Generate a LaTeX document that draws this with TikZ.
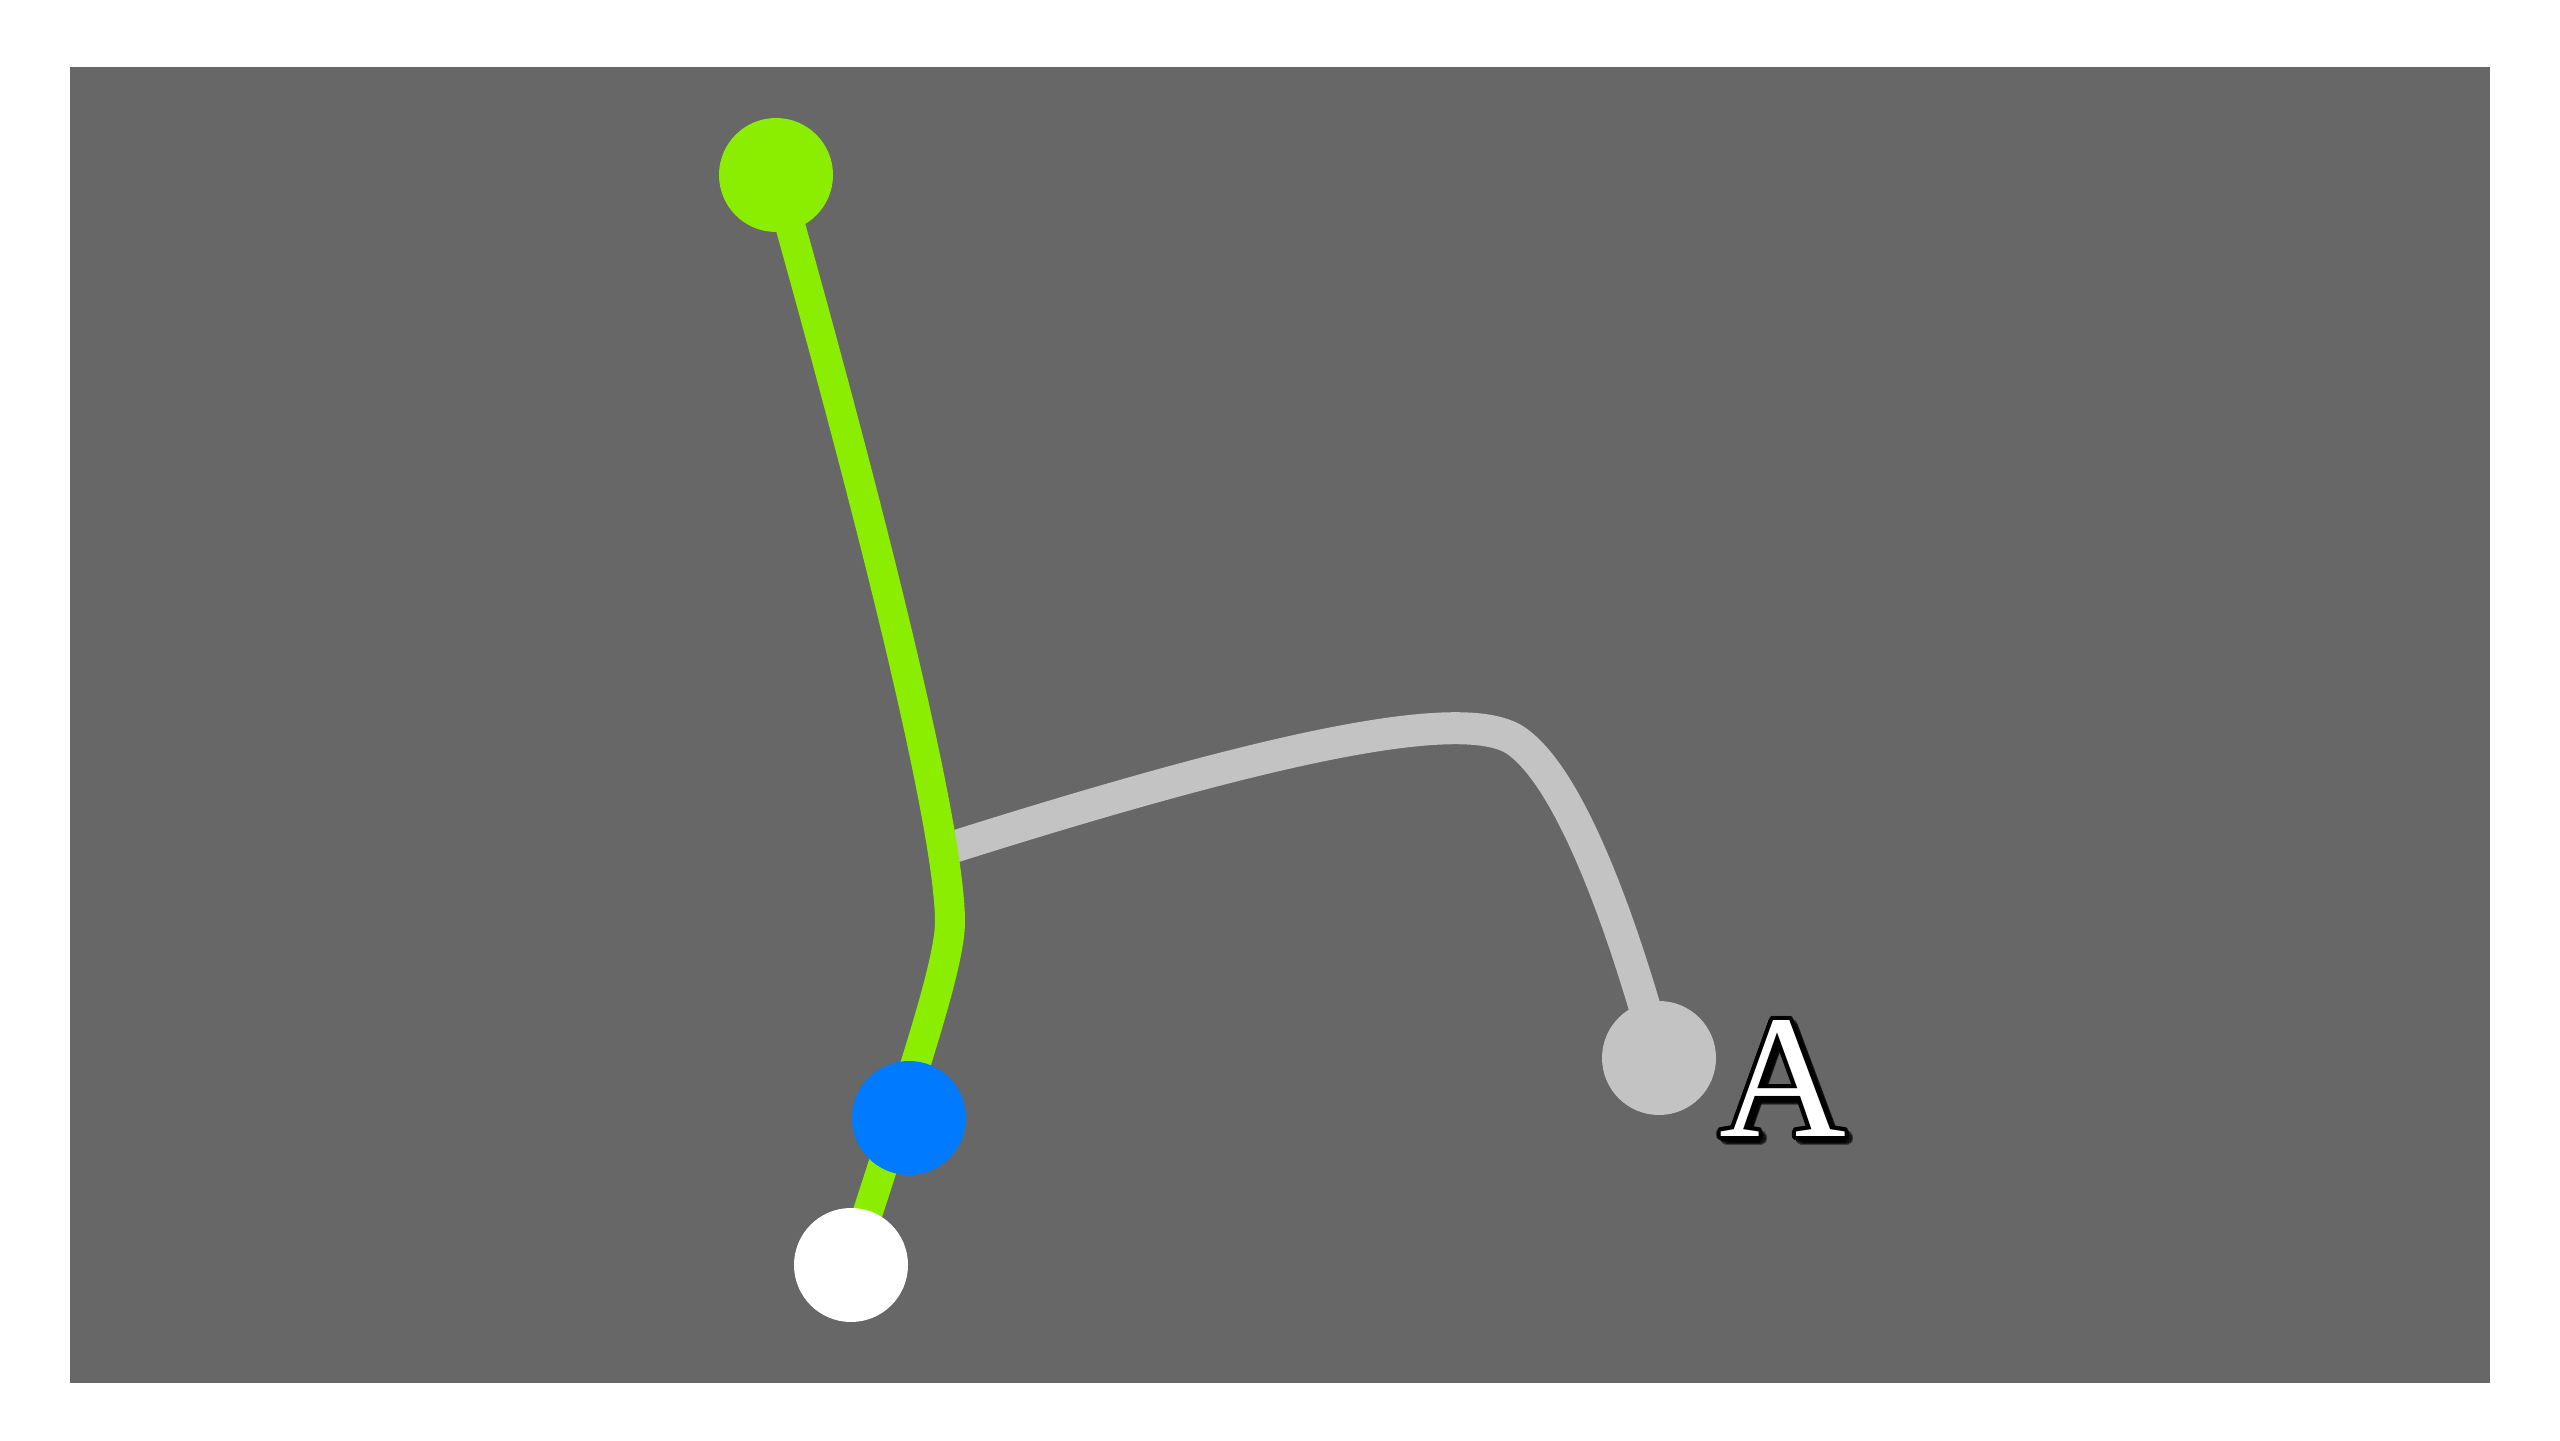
\documentclass[tikz,border=0pt]{standalone}
\usepackage{tikz}
\usepackage{fontspec}
\usepackage[copies]{contour}
\newfontfamily\labelfont{Liberation Serif}
\definecolor{stagegray}{RGB}{103,103,103}
\definecolor{limegreen}{RGB}{139,238,0}
\definecolor{dotblue}{RGB}{0,122,255}
\definecolor{railgray}{RGB}{195,195,195}
\contourlength{1.2pt}

\begin{document}
\begin{tikzpicture}
        \useasboundingbox (0,0) rectangle (25.6,14.4);
        \fill[white] (0,0) rectangle (25.6,14.4);
        \fill[stagegray] (0.70,0.57) rectangle (24.90,13.73);
        % joints
        \coordinate (bend) at (9.50,5.18);
        \coordinate (join) at (9.50,5.92);
        % gray rail
        \draw[railgray, line width=0.32cm] (join) .. controls (12.6,6.9) and (14.6,7.35) .. (15.15,7.0)
            .. controls (15.75,6.6) and (16.3,4.9) .. (16.59,3.82);
        % green rail
        \draw[limegreen, line width=0.30cm, line join=round] (7.76,12.65) .. controls (8.9,8.6) and (9.5,6.0) .. (bend)
            .. controls (9.5,4.7) and (9.0,3.3) .. (8.51,1.75);
        % dots
        \node[circle, fill=limegreen, minimum size=1.14cm, inner sep=0pt] (top) at (7.76,12.65) {};
        \node[circle, fill=dotblue, minimum size=1.14cm, inner sep=0pt] (mid) at (9.09,3.22) {};
        \node[circle, fill=white, minimum size=1.14cm, inner sep=0pt] (foot) at (8.51,1.75) {};
        \node[circle, fill=railgray, minimum size=1.14cm, inner sep=0pt] (end) at (16.59,3.82) {};
        % label
        \node[black, opacity=0.4] at (17.87,3.55) {\fontsize{50}{60}\labelfont\contour{black}{A}};
        \node[white] (lbl) at (17.83,3.59) {\fontsize{50}{60}\labelfont\contour{black}{A}};
    \end{tikzpicture}
\end{document}
